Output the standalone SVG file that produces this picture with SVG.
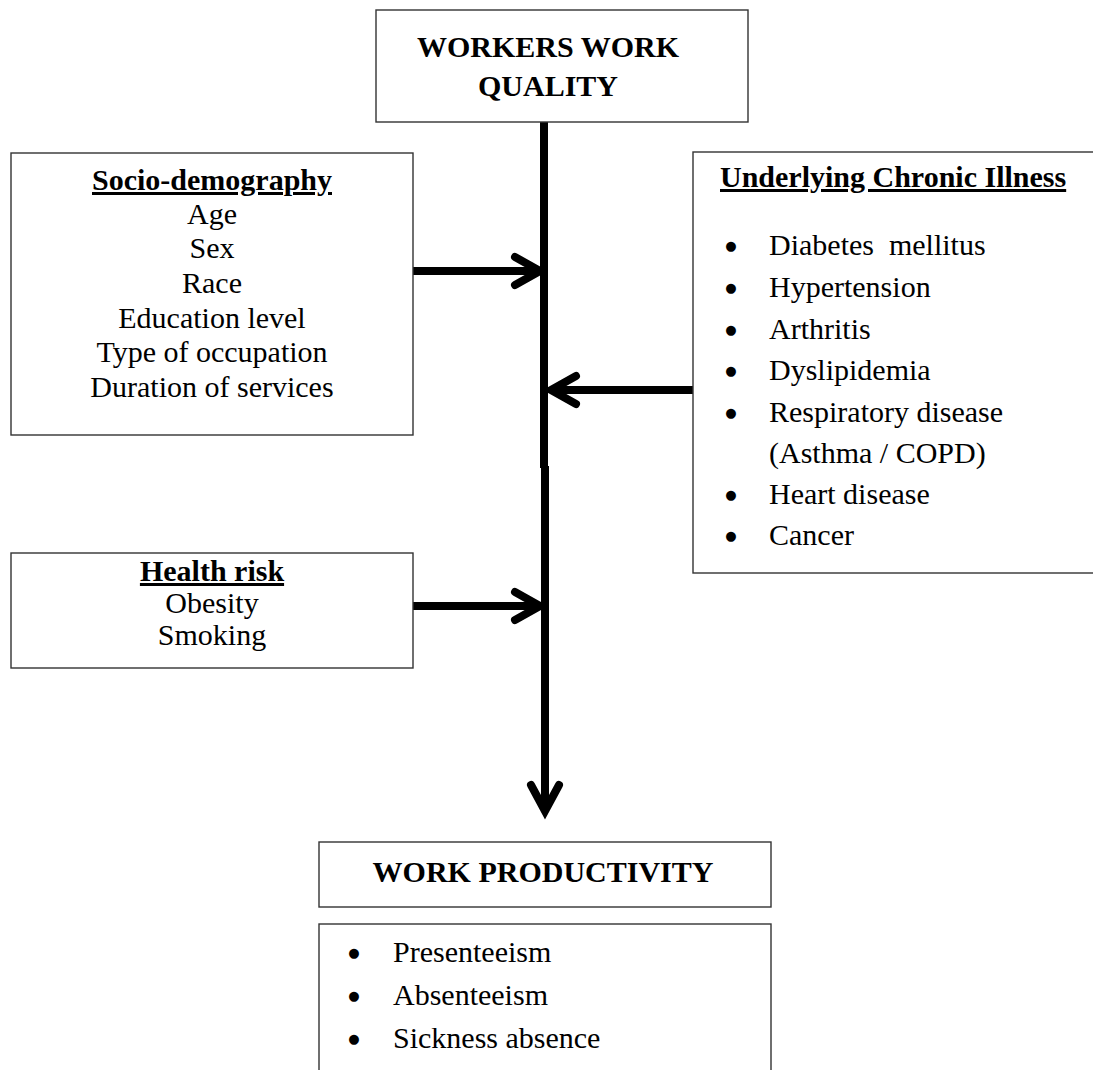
<svg xmlns="http://www.w3.org/2000/svg" width="1093" height="1070" viewBox="0 0 1093 1070">
<style>
.box{fill:#fff;stroke:#333;stroke-width:1.4}
.t{font-family:"Liberation Serif","Times New Roman",serif;font-size:30px;fill:#000}
.b{font-weight:bold}
.u{text-decoration:underline}
.c{text-anchor:middle}
.bl{font-family:"DejaVu Sans",sans-serif;font-size:13px;fill:#000;text-anchor:middle}
.conn{stroke:#000;fill:none;stroke-width:8}
.head{stroke:#000;fill:none;stroke-width:8;stroke-linecap:round;stroke-linejoin:miter}
</style>
<rect width="1093" height="1070" fill="#fff"/>
<g id="connectors">
<line class="conn" x1="544" y1="122" x2="544" y2="468"/>
<line class="conn" x1="545" y1="466" x2="545" y2="808"/>
<polyline class="head" points="531,785 545,811 559,785"/>
<line class="conn" x1="413" y1="271" x2="540" y2="271"/>
<polyline class="head" points="515,257 540,271 515,285"/>
<line class="conn" x1="551" y1="390" x2="693" y2="390"/>
<polyline class="head" points="576,376 551,390 576,404"/>
<line class="conn" x1="413" y1="606" x2="540" y2="606"/>
<polyline class="head" points="515,592 540,606 515,620"/>
</g>
<g id="node-quality">
<rect class="box" x="376" y="10" width="372" height="112"/>
<text class="t b c" x="548" y="57">WORKERS WORK</text>
<text class="t b c" x="548" y="96">QUALITY</text>
</g>
<g id="node-socio">
<rect class="box" x="11" y="153" width="402" height="282"/>
<text class="t b c u" x="212" y="190">Socio-demography</text>
<text class="t c" x="212" y="224">Age</text>
<text class="t c" x="212" y="258">Sex</text>
<text class="t c" x="212" y="293">Race</text>
<text class="t c" x="212" y="328">Education level</text>
<text class="t c" x="212" y="362">Type of occupation</text>
<text class="t c" x="212" y="397">Duration of services</text>
</g>
<g id="node-chronic">
<rect class="box" x="693" y="152" width="410" height="421"/>
<text class="t b u" x="720" y="187">Underlying Chronic Illness</text>
<text class="bl" x="731" y="250">●</text><text class="t" x="769" y="255" xml:space="preserve">Diabetes  mellitus</text>
<text class="bl" x="731" y="292">●</text><text class="t" x="769" y="297">Hypertension</text>
<text class="bl" x="731" y="334">●</text><text class="t" x="769" y="339">Arthritis</text>
<text class="bl" x="731" y="375">●</text><text class="t" x="769" y="380">Dyslipidemia</text>
<text class="bl" x="731" y="417">●</text><text class="t" x="769" y="422">Respiratory disease</text>
<text class="t" x="769" y="463">(Asthma / COPD)</text>
<text class="bl" x="731" y="499">●</text><text class="t" x="769" y="504">Heart disease</text>
<text class="bl" x="731" y="540">●</text><text class="t" x="769" y="545">Cancer</text>
</g>
<g id="node-health">
<rect class="box" x="11" y="553" width="402" height="115"/>
<text class="t b c u" x="212" y="581">Health risk</text>
<text class="t c" x="212" y="613">Obesity</text>
<text class="t c" x="212" y="645">Smoking</text>
</g>
<g id="node-productivity">
<rect class="box" x="319" y="842" width="452" height="65"/>
<text class="t b c" x="543" y="882">WORK PRODUCTIVITY</text>
</g>
<g id="node-outcomes">
<rect class="box" x="319" y="924" width="452" height="160"/>
<text class="bl" x="354" y="957">●</text><text class="t" x="393" y="962">Presenteeism</text>
<text class="bl" x="354" y="1000">●</text><text class="t" x="393" y="1005">Absenteeism</text>
<text class="bl" x="354" y="1043">●</text><text class="t" x="393" y="1048">Sickness absence</text>
</g>
</svg>
